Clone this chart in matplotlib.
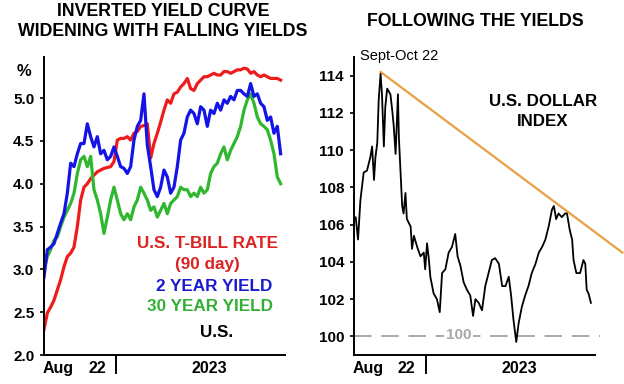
import numpy as np
import pandas as pd
import matplotlib
matplotlib.use('Agg')
import matplotlib.pyplot as plt
import matplotlib.transforms as mtransforms

plt.rcParams['font.family'] = ['Liberation Sans', 'DejaVu Sans']

#### yields (weekly readings, Aug 2022 - Dec 2023)
tbill = [2.30, 2.49, 2.56, 2.64, 2.76, 2.88, 3.03, 3.15, 3.19, 3.26,
         3.50, 3.81, 3.96, 4.00, 4.06, 4.10, 4.14, 4.16, 4.18, 4.19,
         4.20, 4.26, 4.51, 4.53, 4.53, 4.55, 4.51, 4.59, 4.61, 4.67,
         4.68, 4.70, 4.30, 4.47, 4.59, 4.72, 4.86, 4.98, 4.94, 5.05,
         5.07, 5.13, 5.17, 5.23, 5.11, 5.09, 5.17, 5.21, 5.25, 5.25,
         5.27, 5.29, 5.27, 5.27, 5.31, 5.31, 5.29, 5.31, 5.33, 5.33,
         5.35, 5.34, 5.29, 5.31, 5.27, 5.25, 5.27, 5.25, 5.23, 5.23, 5.23, 5.21]
y2 = [2.91, 3.23, 3.26, 3.30, 3.42, 3.54, 3.65, 3.89, 4.24, 4.20,
      4.35, 4.47, 4.47, 4.70, 4.55, 4.43, 4.55, 4.35, 4.39, 4.28,
      4.32, 4.43, 4.32, 4.20, 4.18, 4.12, 4.20, 4.51, 4.67, 4.74,
      5.05, 4.45, 4.20, 3.93, 3.85, 3.96, 4.16, 4.08, 3.89, 3.96,
      4.20, 4.51, 4.59, 4.78, 4.86, 4.82, 4.70, 4.90, 4.86, 4.67,
      4.86, 4.82, 4.94, 4.86, 4.98, 4.94, 5.02, 4.98, 5.09, 5.09,
      5.05, 5.02, 5.17, 5.02, 5.05, 4.94, 4.90, 4.74, 4.78, 4.59, 4.67, 4.35]
y30 = [2.99, 3.15, 3.23, 3.34, 3.38, 3.50, 3.61, 3.69, 3.77, 3.89,
       4.12, 4.28, 4.32, 4.20, 4.32, 3.93, 3.81, 3.65, 3.42, 3.61,
       3.81, 3.96, 3.81, 3.65, 3.58, 3.65, 3.58, 3.73, 3.81, 3.96,
       3.89, 3.81, 3.69, 3.73, 3.61, 3.69, 3.77, 3.65, 3.77, 3.81,
       3.85, 3.96, 3.93, 3.93, 3.85, 3.89, 3.85, 3.96, 3.89, 3.93,
       4.12, 4.20, 4.24, 4.35, 4.43, 4.28, 4.39, 4.47, 4.55, 4.67,
       4.86, 4.98, 5.05, 4.94, 4.78, 4.70, 4.67, 4.63, 4.51, 4.35, 4.08, 4.00]

#### dollar index (day offset from 1 Aug 2022, value)
dxy_day = [0, 4, 9, 14, 21, 28, 35, 39, 43, 46, 50, 53, 57, 60, 64, 67, 71, 78, 82, 85,
           89, 94, 96, 99, 103, 106, 110, 113, 121, 124, 128, 135, 142, 149, 152, 156, 160, 163, 170, 177,
           183, 188, 195, 202, 209, 216, 221, 227, 234, 241, 248, 254, 259, 266, 273, 280, 287, 294, 301, 309,
           316, 323, 330, 335, 340, 346, 351, 358, 365, 372, 379, 387, 394, 401, 408, 415, 422, 426, 431, 436,
           443, 450, 454, 460, 465, 468, 474, 482, 489, 493, 496, 500, 505]
dxy = [106.3, 106.4, 105.2, 107.3, 108.8, 108.9, 109.6, 110.2, 108.4, 109.6, 110.4, 112.7, 114.1, 113.0, 110.2, 112.3, 113.3, 113.0, 112.1, 111.3,
       109.8, 113.0, 110.7, 109.1, 107.0, 106.6, 107.7, 106.3, 105.9, 104.7, 105.4, 104.8, 104.3, 104.5, 103.6, 105.0, 104.1, 103.2, 102.3, 102.0,
       101.3, 103.4, 103.6, 104.5, 104.8, 105.5, 104.3, 103.8, 102.9, 102.5, 102.2, 101.1, 102.0, 101.8, 101.4, 102.7, 103.4, 104.1, 104.2, 103.9,
       102.7, 102.7, 103.2, 102.2, 100.9, 99.7, 100.7, 101.6, 102.2, 102.7, 103.4, 103.9, 104.5, 104.8, 105.2, 105.9, 106.8, 107.0, 106.3, 106.6,
       106.4, 106.6, 106.6, 105.7, 105.2, 104.1, 103.4, 103.4, 104.1, 103.9, 102.5, 102.3, 101.8]

# trend line: Sept-Oct 22 high through the Oct 23 high
trend_day = [57, 572]
trend_val = [114.2, 104.5]

start = pd.Timestamp('2022-08-01')
yield_dates = pd.date_range(start, '2023-12-18', periods=len(tbill))
dxy_dates = start + pd.to_timedelta(dxy_day, unit='D')
trend_dates = start + pd.to_timedelta(trend_day, unit='D')

xmin = start
xmax = start + pd.Timedelta(days=513)
year_tick = pd.Timestamp('2023-01-01')

fig = plt.figure(figsize=(6.24, 3.84), dpi=100)
ax1 = fig.add_axes([0.0705, 0.0755, 0.386, 0.776])
ax2 = fig.add_axes([0.567, 0.0755, 0.386, 0.776])

red = '#ee1c1c'
blue = '#1414e6'
green = '#2fb82f'

ax1.plot(yield_dates, tbill, color=red, lw=2.3)
ax1.plot(yield_dates, y30, color=green, lw=2.3)
ax1.plot(yield_dates, y2, color=blue, lw=2.3)
ax1.set_ylim(2.0, 5.48)
ax1.set_yticks(np.arange(2.0, 5.01, 0.5))
ax1.set_yticklabels(['%.1f' % v for v in np.arange(2.0, 5.01, 0.5)])

ax2.plot(dxy_dates, dxy, color='black', lw=1.3, zorder=3)
ax2.plot(trend_dates, trend_val, color='#e8a040', lw=1.6, clip_on=False, zorder=2)
ax2.plot([xmin, start + pd.Timedelta(days=525)], [100, 100], color='#aaaaaa', lw=1.4,
         dashes=(9, 5), clip_on=False, zorder=1)
ax2.text(start + pd.Timedelta(days=223), 100.05, '100', color='#a8a8a8', fontsize=11,
         fontweight='bold', ha='center', va='center',
         bbox=dict(facecolor='white', edgecolor='none', pad=1), zorder=2)
ax2.set_ylim(99, 115)
ax2.set_yticks(np.arange(100, 115, 2))

for ax in (ax1, ax2):
    ax.set_xlim(xmin, xmax)
    for s in ('top', 'right'):
        ax.spines[s].set_visible(False)
    for s in ('left', 'bottom'):
        ax.spines[s].set_linewidth(1.4)
    ax.set_xticks([year_tick])
    ax.set_xticklabels([''])
    ax.tick_params(axis='x', length=14, width=1.4, direction='out')
    ax.tick_params(axis='y', length=3, width=1.2, pad=4, labelsize=11)
    for lab in ax.get_yticklabels():
        lab.set_fontweight('bold')
    trans = mtransforms.blended_transform_factory(ax.transData, ax.transAxes)
    ax.text(start + pd.Timedelta(days=31), -0.045, 'Aug', transform=trans, ha='center', va='center',
            fontsize=11.5, fontweight='bold')
    ax.text(start + pd.Timedelta(days=113), -0.045, '22', transform=trans, ha='center', va='center',
            fontsize=11.5, fontweight='bold')
    ax.text(start + pd.Timedelta(days=353), -0.045, '2023', transform=trans, ha='center', va='center',
            fontsize=11.5, fontweight='bold')

# left panel text
ax1.text(-0.085, 0.95, '%', transform=ax1.transAxes, ha='center', va='center',
         fontsize=12, fontweight='bold')
ax1.text(0.68, 0.375, 'U.S. T-BILL RATE', transform=ax1.transAxes, ha='center', va='center',
         color='#dd2222', fontsize=12.3, fontweight='bold')
ax1.text(0.68, 0.305, '(90 day)', transform=ax1.transAxes, ha='center', va='center',
         color='#dd2222', fontsize=12.3, fontweight='bold')
ax1.text(0.705, 0.23, '2 YEAR YIELD', transform=ax1.transAxes, ha='center', va='center',
         color='#1a1ad0', fontsize=12.3, fontweight='bold')
ax1.text(0.69, 0.163, '30 YEAR YIELD', transform=ax1.transAxes, ha='center', va='center',
         color='#33b033', fontsize=12.3, fontweight='bold')
ax1.text(0.715, 0.075, 'U.S.', transform=ax1.transAxes, ha='center', va='center',
         color='black', fontsize=12.3, fontweight='bold')

# right panel text
ax2.text(0.19, 1.005, 'Sept-Oct 22', transform=ax2.transAxes, ha='center', va='center',
         fontsize=10.5)
ax2.text(0.785, 0.85, 'U.S. DOLLAR', transform=ax2.transAxes, ha='center', va='center',
         fontsize=12.2, fontweight='bold')
ax2.text(0.785, 0.783, 'INDEX', transform=ax2.transAxes, ha='center', va='center',
         fontsize=12.2, fontweight='bold')

fig.text(163 / 624, 1 - 12 / 384, 'INVERTED YIELD CURVE', ha='center', va='center',
         fontsize=12.8, fontweight='bold')
fig.text(163 / 624, 1 - 31 / 384, 'WIDENING WITH FALLING YIELDS', ha='center', va='center',
         fontsize=12.8, fontweight='bold')
fig.text(475 / 624, 1 - 22 / 384, 'FOLLOWING THE YIELDS', ha='center', va='center',
         fontsize=12.8, fontweight='bold')

fig.savefig('out.png', dpi=100)
